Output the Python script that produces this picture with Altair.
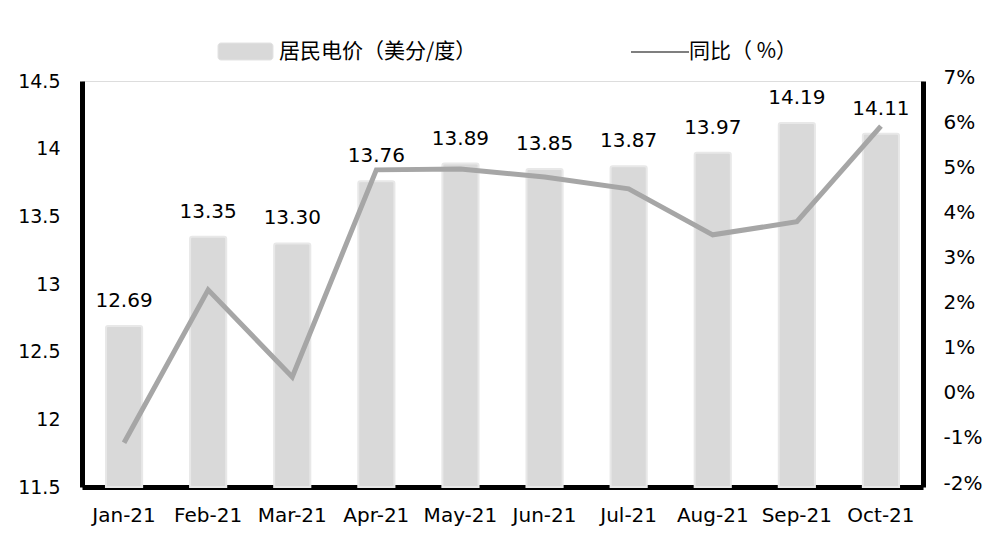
import altair as alt
import pandas as pd

months = ["Jan-21", "Feb-21", "Mar-21", "Apr-21", "May-21",
          "Jun-21", "Jul-21", "Aug-21", "Sep-21", "Oct-21"]
price = [12.69, 13.35, 13.30, 13.76, 13.89, 13.85, 13.87, 13.97, 14.19, 14.11]
yoy = [-1.02, 2.37, 0.44, 5.03, 5.05, 4.87, 4.61, 3.59, 3.88, 6.00]

bar_label = "居民电价（美分/度）"
line_label = "同比（ %）"

df = pd.DataFrame({"month": months, "price": price, "yoy": yoy,
                   "label": [f"{v:.2f}" for v in price]})

FONT = "DejaVu Sans, Noto Sans CJK SC"
CJK = "Noto Sans CJK SC"
W, H = 841, 406

x = alt.X("month:N", sort=months, title=None,
          scale=alt.Scale(paddingInner=0.57, paddingOuter=0.285),
          axis=alt.Axis(labelAngle=0, labelFontSize=20, labelColor="black",
                        labelFont=FONT, ticks=False, labelPadding=18,
                        domainColor="black", domainWidth=5))

price_scale = alt.Scale(domain=[11.5, 14.5], zero=False, nice=False)

y_left = alt.Y("price:Q", title=None, scale=price_scale,
               axis=alt.Axis(values=[11.5, 12, 12.5, 13, 13.5, 14, 14.5],
                             labelExpr="'' + datum.value", grid=False,
                             ticks=False, labelFontSize=19, labelColor="black",
                             labelFont=FONT, labelPadding=22,
                             domainColor="black", domainWidth=5))

base = alt.Chart(df)

bars = base.mark_bar(color="#d9d9d9", stroke="#e8e8e8", strokeWidth=2,
                     cornerRadiusTopLeft=2, cornerRadiusTopRight=2).encode(
    x=x, y=y_left, y2=alt.datum(11.5))

labels = base.mark_text(fontSize=20, font=FONT, color="black",
                        baseline="alphabetic", dy=-19).encode(
    x=x, y=y_left, text="label:N")

left = alt.layer(bars, labels)

line = base.mark_line(color="#a6a6a6", strokeWidth=5).encode(
    x=x,
    y=alt.Y("yoy:Q", title=None,
            scale=alt.Scale(domain=[-2, 7], nice=False),
            axis=alt.Axis(orient="right", values=list(range(-2, 8)),
                          labelExpr="datum.value + '%'", grid=False,
                          ticks=False, labelFontSize=20, labelColor="black",
                          labelFont=FONT, labelPadding=20, labelOffset=-4,
                          domainColor="black", domainWidth=5)))

# legend drawn above the plot area
leg = pd.DataFrame({"k": [0]})
leg_rect = alt.Chart(leg).mark_rect(color="#d9d9d9", stroke="#e3e3e3",
                                    cornerRadius=3).encode(
    x=alt.value(136), x2=alt.value(191), y=alt.value(-38), y2=alt.value(-21))
leg_text1 = alt.Chart(leg).mark_text(text=bar_label, fontSize=21, font=CJK,
                                     align="left", baseline="middle",
                                     color="black").encode(
    x=alt.value(197), y=alt.value(-29))
leg_rule = alt.Chart(leg).mark_rule(color="black", strokeWidth=1.2).encode(
    x=alt.value(549), x2=alt.value(607), y=alt.value(-29))
leg_text2 = alt.Chart(leg).mark_text(text=line_label, fontSize=21, font=CJK,
                                     align="left", baseline="middle",
                                     color="black").encode(
    x=alt.value(607), y=alt.value(-29))

chart = alt.layer(left, line, leg_rect, leg_text1, leg_rule, leg_text2).resolve_scale(
    y="independent"
).properties(
    width=W, height=H,
    autosize=alt.AutoSizeParams(type="none"),
    padding={"left": 82, "top": 81, "right": 77, "bottom": 63},
).configure_view(stroke=None).configure(background="white")

chart.save("out.html", embed_options={"renderer": "svg", "actions": False})
